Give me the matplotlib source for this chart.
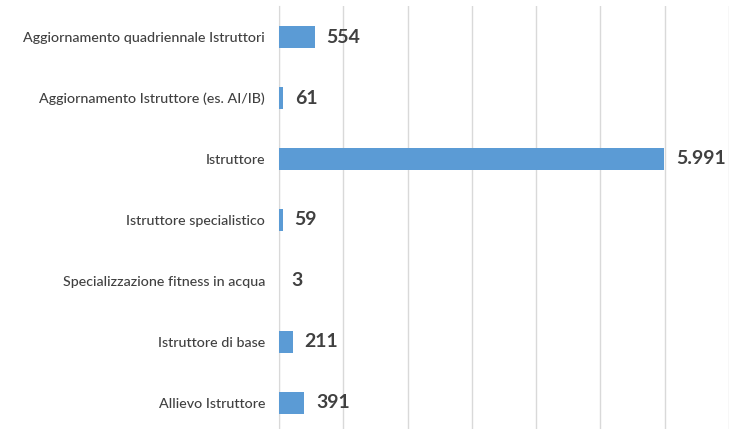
import matplotlib.pyplot as plt
from matplotlib.ticker import MultipleLocator

# categories top to bottom, with their counts
categorie = [
    'Aggiornamento quadriennale Istruttori',
    'Aggiornamento Istruttore (es. AI/IB)',
    'Istruttore',
    'Istruttore specialistico',
    'Specializzazione fitness in acqua',
    'Istruttore di base',
    'Allievo Istruttore',
]
valori = [554, 61, 5991, 59, 3, 211, 391]

plt.rcParams['font.family'] = ['Lato', 'DejaVu Sans']

W, H = 744, 429
fig = plt.figure(figsize=(W / 100, H / 100), dpi=100)
ax = fig.add_axes([279 / W, 0, (729 - 279) / W, 1 - 6 / H])

pos = list(range(len(categorie)))
ax.barh(pos, valori, height=0.36, color='#5B9BD5', zorder=3)

ax.set_xlim(0, 7000)
ax.set_ylim(6.43, -0.51)
ax.xaxis.set_major_locator(MultipleLocator(1000))
ax.grid(axis='x', color='#D9D9D9', linewidth=1, zorder=0)
ax.set_xticklabels([])
ax.tick_params(axis='x', length=0)
ax.tick_params(axis='y', length=0, pad=10)
ax.set_yticks(pos)
ax.set_yticklabels(categorie, fontsize=10.3, color='#404040', fontweight='medium')

for s in ['top', 'right', 'bottom']:
    ax.spines[s].set_visible(False)
ax.spines['left'].set_color('#D9D9D9')

for p, v in zip(pos, valori):
    testo = f'{v:,}'.replace(',', '.')
    ax.annotate(testo, (v, p), xytext=(8.5, 0), textcoords='offset points',
                va='center', ha='left', fontsize=14, fontweight='bold', color='#404040')

fig.savefig('out.png', dpi=100)
